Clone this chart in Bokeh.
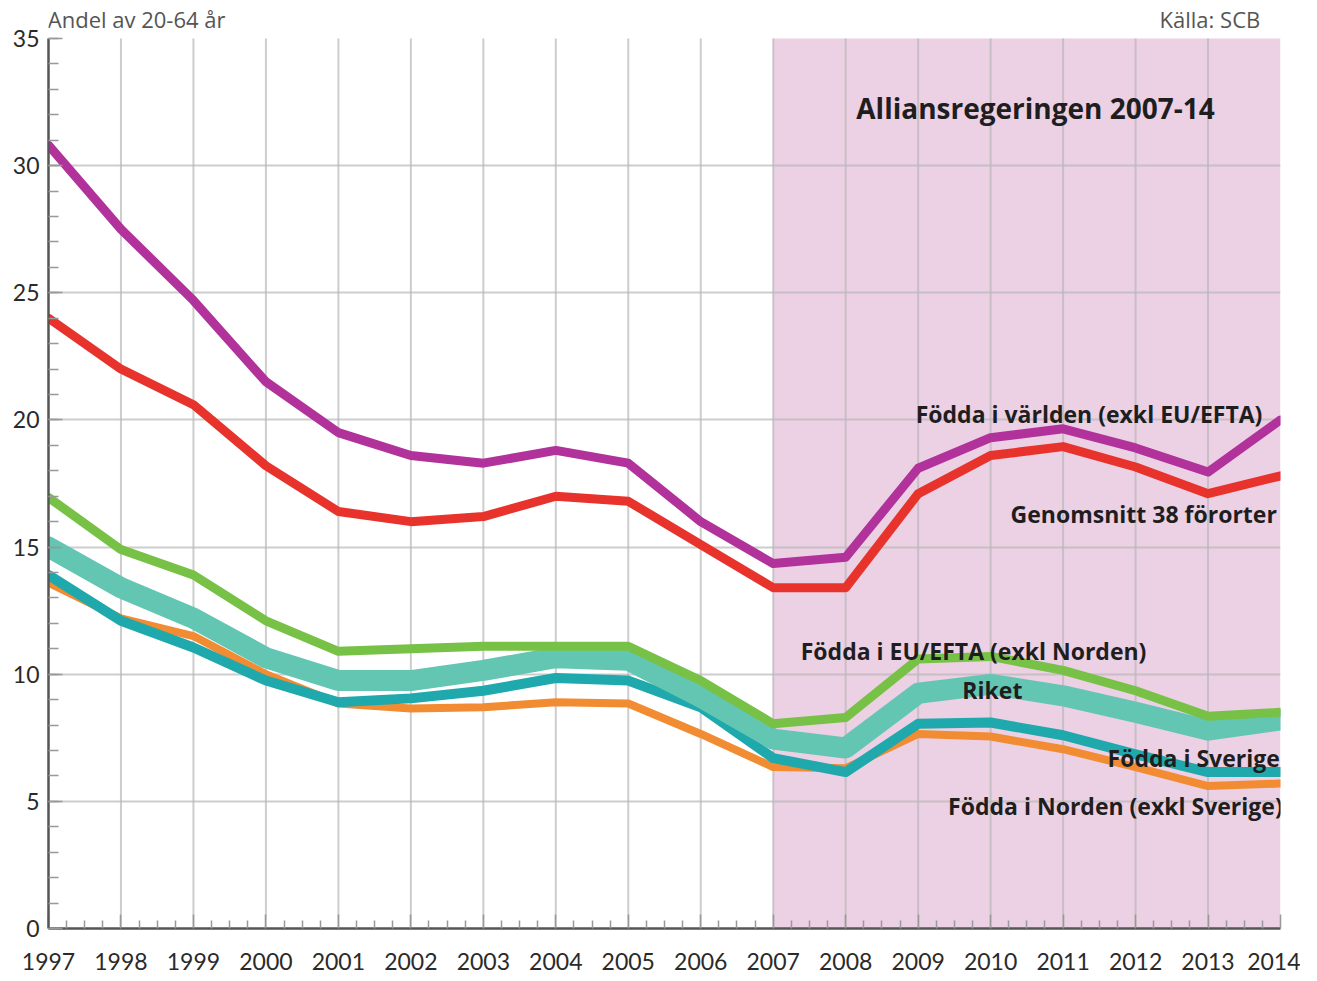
from bokeh.plotting import figure
from bokeh.models import Range1d, FixedTicker, Label
from bokeh.embed import file_html
from bokeh.resources import INLINE

years = list(range(1997, 2015))

varlden = [30.8, 27.5, 24.7, 21.5, 19.5, 18.6, 18.3, 18.8, 18.3, 16.0, 14.35, 14.6, 18.1, 19.3, 19.65, 18.9, 17.95, 20.0]
fororter = [24.0, 22.0, 20.6, 18.2, 16.4, 16.0, 16.2, 17.0, 16.8, 15.1, 13.4, 13.4, 17.1, 18.6, 18.95, 18.15, 17.1, 17.8]
eu_efta = [16.95, 14.9, 13.9, 12.1, 10.9, 11.0, 11.1, 11.1, 11.1, 9.75, 8.05, 8.3, 10.6, 10.7, 10.15, 9.35, 8.35, 8.5]
riket = [15.0, 13.4, 12.2, 10.65, 9.75, 9.75, 10.15, 10.65, 10.55, 9.1, 7.45, 7.1, 9.25, 9.6, 9.15, 8.5, 7.8, 8.2]
sverige = [13.9, 12.1, 11.05, 9.75, 8.9, 9.05, 9.35, 9.85, 9.75, 8.7, 6.7, 6.15, 8.05, 8.1, 7.6, 6.85, 6.15, 6.15]
norden = [13.6, 12.2, 11.5, 10.0, 8.85, 8.65, 8.7, 8.9, 8.85, 7.65, 6.35, 6.3, 7.65, 7.55, 7.05, 6.35, 5.6, 5.7]

y_ticks = [0, 5, 10, 15, 20, 25, 30, 35]
y_max = 35
shade_start, shade_end = 2007, 2014

p = figure(width=1300, height=973, output_backend="svg", toolbar_location=None,
           x_range=Range1d(1997, 2014), y_range=Range1d(0, 36.494),
           min_border_left=48, min_border_right=20, min_border_top=0, min_border_bottom=45)
p.title = None
p.outline_line_color = None
p.background_fill_color = "white"

# shaded period
q = p.quad(left=[shade_start], right=[shade_end], bottom=[0], top=[y_max],
           fill_color="#ECD0E4", line_color=None)
q.level = "image"

# vertical grid lines limited to the 0..35 band
inner_years = years[1:-1]
vg = p.segment(x0=inner_years, y0=[0] * len(inner_years), x1=inner_years, y1=[y_max] * len(inner_years),
               line_color="#b8b8b8", line_alpha=0.7, line_width=2)
vg.level = "underlay"
p.xgrid.visible = False

# axes
for ax in (p.xaxis[0], p.yaxis[0]):
    ax.axis_line_color = "#555555"
    ax.axis_line_width = 2.5
    ax.major_tick_in = 14
    ax.major_tick_out = 0
    ax.minor_tick_in = 8
    ax.minor_tick_out = 0
    ax.major_tick_line_color = "#999999"
    ax.minor_tick_line_color = "#999999"
    ax.major_tick_line_width = 1.5
    ax.minor_tick_line_width = 1.5
    ax.major_label_text_font = "Lato"
    ax.major_label_text_font_size = "23px"
    ax.major_label_text_color = "#2a2a2a"

p.xaxis[0].ticker = FixedTicker(ticks=years, minor_ticks=[y + f for y in years[:-1] for f in (0.25, 0.5, 0.75)])
p.xaxis[0].major_label_standoff = 24
p.yaxis[0].ticker = FixedTicker(ticks=y_ticks, minor_ticks=list(range(0, y_max + 1)))
p.yaxis[0].major_label_standoff = 9
p.yaxis[0].minor_tick_in = 10
p.yaxis[0].bounds = (0, y_max)

p.ygrid[0].ticker = FixedTicker(ticks=y_ticks[1:-1])
p.ygrid[0].grid_line_color = "#b8b8b8"
p.ygrid[0].grid_line_alpha = 0.7
p.ygrid[0].grid_line_width = 2

kw = dict(line_cap="round", line_join="round")
p.line(years, norden, line_color="#F28C32", line_width=8, **kw)
p.line(years, sverige, line_color="#1FA9AC", line_width=10, **kw)
p.line(years, riket, line_color="#62C6B3", line_width=21, **kw)
p.line(years, eu_efta, line_color="#77C146", line_width=9, **kw)
p.line(years, fororter, line_color="#E8332C", line_width=9, **kw)
p.line(years, varlden, line_color="#B0329A", line_width=9, **kw)

def lab(x, y, t, align, size="23px", bold=True, color="#1e1e1e"):
    p.add_layout(Label(x=x, y=y, text=t, text_align=align, text_baseline="middle",
                       text_font="Open Sans", text_font_size=size,
                       text_font_style="bold" if bold else "normal", text_color=color))

lab(2010.62, 32.25, "Alliansregeringen 2007-14", "center", size="28px")
lab(2013.75, 20.25, "Födda i världen (exkl EU/EFTA)", "right")
lab(2013.95, 16.32, "Genomsnitt 38 förorter", "right")
lab(2007.38, 10.93, "Födda i EU/EFTA (exkl Norden)", "left")
lab(2009.61, 9.36, "Riket", "left")
lab(2013.99, 6.72, "Födda i Sverige", "right")
lab(2014.03, 4.8, "Födda i Norden (exkl Sverige)", "right")
lab(1996.99, 35.78, "Andel av 20-64 år", "left", size="22px", bold=False, color="#555555")
lab(2013.72, 35.78, "Källa: SCB", "right", size="22px", bold=False, color="#555555")

open("out.html", "w").write(file_html(p, INLINE))
